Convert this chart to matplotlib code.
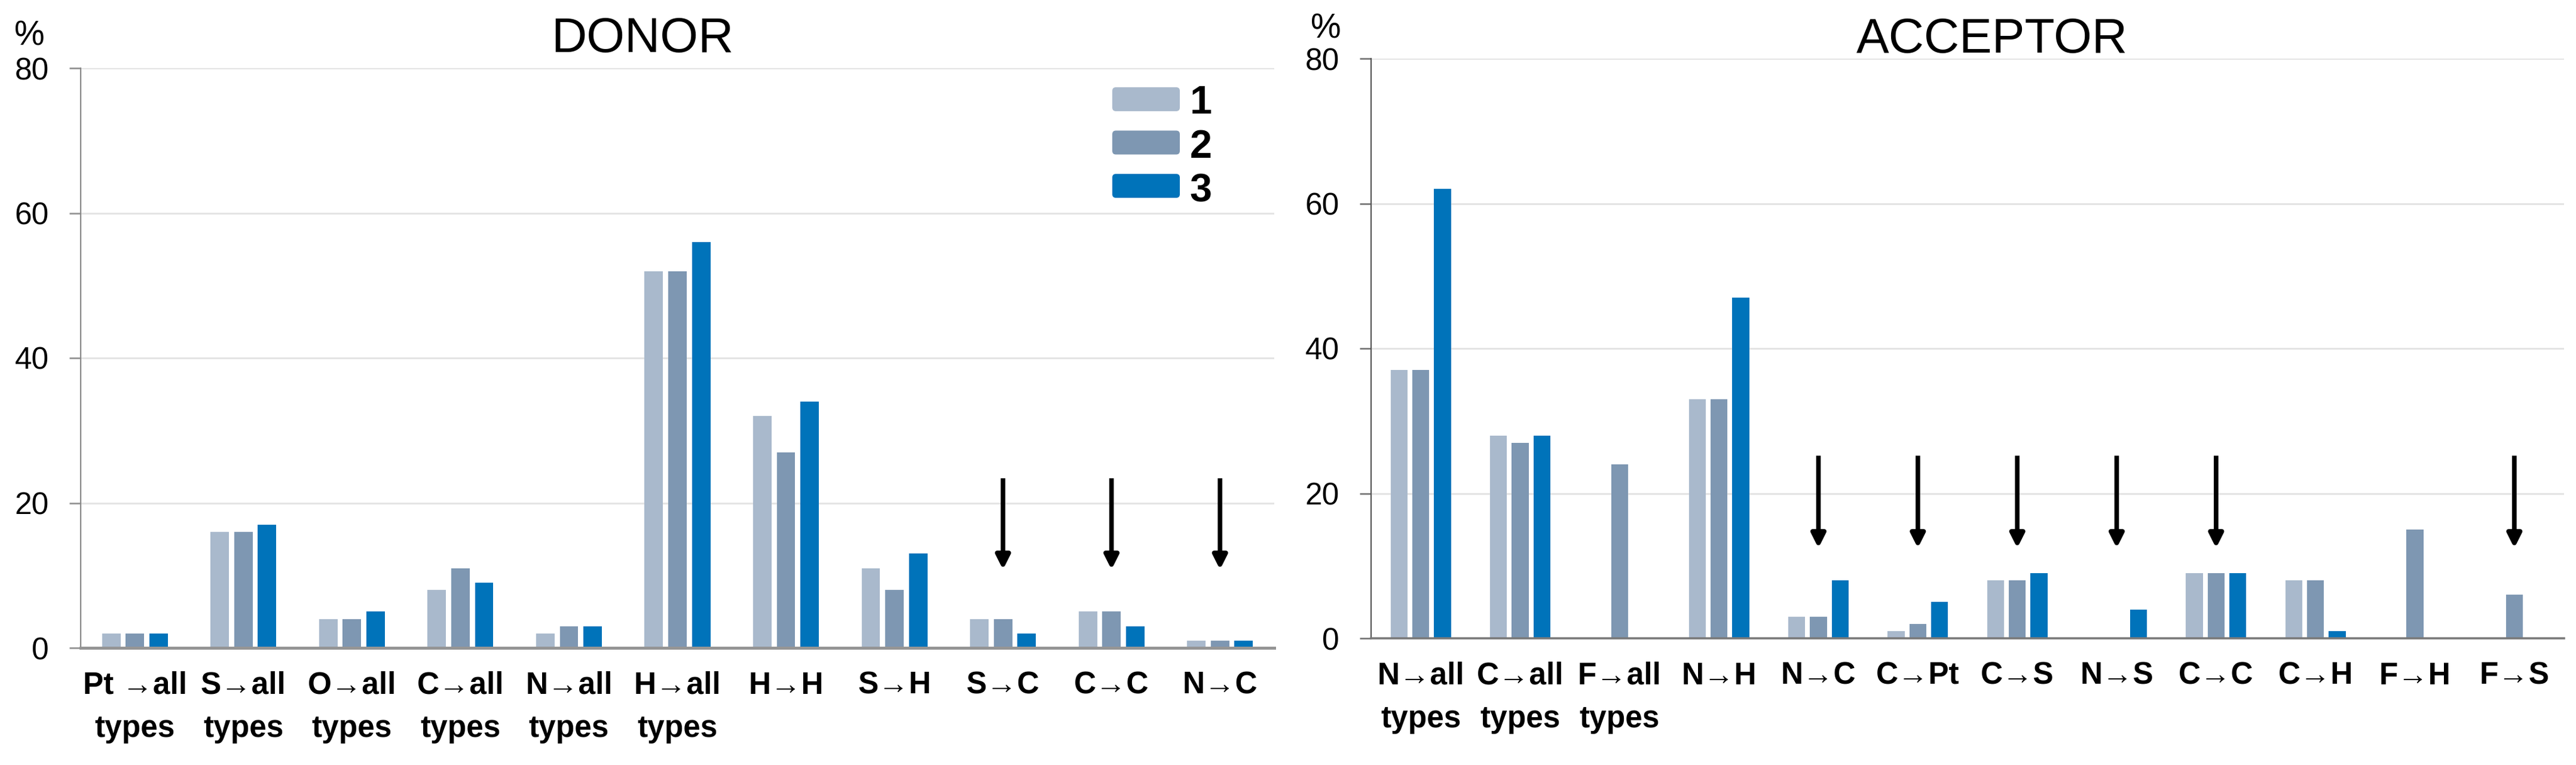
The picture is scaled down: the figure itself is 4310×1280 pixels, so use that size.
import matplotlib
matplotlib.use('Agg')
import matplotlib.pyplot as plt
import numpy as np
from matplotlib.patches import FancyBboxPatch

# ---------------- data ----------------
donor_categories = ['Pt →all\ntypes', 'S→all\ntypes', 'O→all\ntypes', 'C→all\ntypes',
                    'N→all\ntypes', 'H→all\ntypes', 'H→H', 'S→H', 'S→C', 'C→C', 'N→C']
donor_1 = [2, 16, 4, 8, 2, 52, 32, 11, 4, 5, 1]
donor_2 = [2, 16, 4, 11, 3, 52, 27, 8, 4, 5, 1]
donor_3 = [2, 17, 5, 9, 3, 56, 34, 13, 2, 3, 1]
donor_arrows = ['S→C', 'C→C', 'N→C']
donor_arrow_from, donor_arrow_to = 23.4, 10.8

acceptor_categories = ['N→all\ntypes', 'C→all\ntypes', 'F→all\ntypes', 'N→H', 'N→C', 'C→Pt',
                       'C→S', 'N→S', 'C→C', 'C→H', 'F→H', 'F→S']
acceptor_1 = [37, 28, 0, 33, 3, 1, 8, 0, 9, 8, 0, 0]
acceptor_2 = [37, 27, 24, 33, 3, 2, 8, 0, 9, 8, 15, 6]
acceptor_3 = [62, 28, 0, 47, 8, 5, 9, 4, 9, 1, 0, 0]
acceptor_arrows = ['N→C', 'C→Pt', 'C→S', 'N→S', 'C→C', 'F→S']
acceptor_arrow_from, acceptor_arrow_to = 25.2, 12.45

series_labels = ['1', '2', '3']
y_ticks = [0, 20, 40, 60, 80]
titles = ['DONOR', 'ACCEPTOR']

# ---------------- style ----------------
plt.rcParams['font.family'] = ['Liberation Sans Narrow', 'Liberation Sans', 'DejaVu Sans']
colors = ['#A9B9CC', '#7E97B2', '#0073BA']
W, H = 4310, 1280
fig = plt.figure(figsize=(W / 100, H / 100), dpi=100)
fig.patch.set_facecolor('white')


def px(x0, y0, x1, y1):
    """pixel box (top-left origin) -> figure fraction rect"""
    return [x0 / W, 1 - y1 / H, (x1 - x0) / W, (y1 - y0) / H]


ax_d = fig.add_axes(px(135, 114, 2132, 1084))
ax_a = fig.add_axes(px(2294, 98, 4290, 1068))

BAR_W = 0.17
STEP = 0.218


def draw_panel(ax, cats, series, arrows, a_from, a_to, spine_col, base_col, base_lw):
    n = len(cats)
    x = np.arange(n)
    for i, (vals, col) in enumerate(zip(series, colors)):
        ax.bar(x + (i - 1) * STEP, vals, width=BAR_W, color=col, linewidth=0, zorder=3)
    ax.set_xlim(-0.5, n - 0.5)
    ax.set_ylim(0, 80)
    ax.set_yticks(y_ticks)
    ax.yaxis.grid(True, color='#E4E4E4', linewidth=2.2)
    ax.set_axisbelow(True)
    for s in ['top', 'right']:
        ax.spines[s].set_visible(False)
    ax.spines['left'].set_color(spine_col)
    ax.spines['left'].set_linewidth(1.6)
    ax.spines['bottom'].set_color(base_col)
    ax.spines['bottom'].set_linewidth(base_lw)
    ax.spines['bottom'].set_zorder(4)
    ax.tick_params(axis='y', direction='out', length=13.7, width=2.0, color=base_col,
                   pad=24.5, labelsize=37)
    ax.tick_params(axis='x', length=0, pad=28, labelsize=37)
    ax.set_xticks(x)
    ax.set_xticklabels(cats, fontweight='bold', linespacing=1.6)
    for c in arrows:
        xi = cats.index(c)
        ax.annotate('', xy=(xi, a_to), xytext=(xi, a_from),
                    arrowprops=dict(arrowstyle='-|>,head_length=14,head_width=7',
                                    mutation_scale=1, lw=5.5, color='black',
                                    shrinkA=0, shrinkB=0, capstyle='butt'),
                    annotation_clip=False, zorder=6)


draw_panel(ax_d, donor_categories, [donor_1, donor_2, donor_3], donor_arrows,
           donor_arrow_from, donor_arrow_to, '#8A8A8A', '#959595', 3.6)
draw_panel(ax_a, acceptor_categories, [acceptor_1, acceptor_2, acceptor_3], acceptor_arrows,
           acceptor_arrow_from, acceptor_arrow_to, '#555555', '#7A7A7A', 2.6)

# titles and % labels
fig.text(1075 / W, 1 - 87 / H, titles[0], ha='center', va='baseline', fontsize=59)
fig.text(3333 / W, 1 - 88 / H, titles[1], ha='center', va='baseline', fontsize=59)
fig.text(49 / W, 1 - 75 / H, '%', ha='center', va='baseline', fontsize=41)
fig.text(2218 / W, 1 - 63 / H, '%', ha='center', va='baseline', fontsize=41)

# legend (manual, in pixels)
for i, (lab, col) in enumerate(zip(series_labels, colors)):
    top = 146 + i * 72.5
    box = FancyBboxPatch((1861, H - top - 40), 113, 40,
                         boxstyle='round,pad=0,rounding_size=6',
                         facecolor=col, edgecolor='none', transform=None)
    fig.add_artist(box)
    fig.text(1991 / W, 1 - (190 + i * 73.5) / H, lab, ha='left', va='baseline',
             fontsize=48, fontweight='bold')

fig.savefig('out.png', dpi=100, facecolor='white')
